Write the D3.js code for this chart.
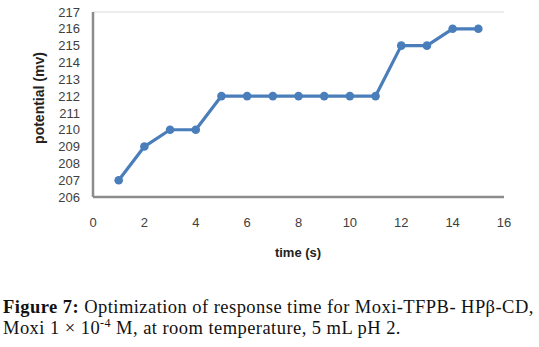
<!DOCTYPE html>
<html><head><meta charset="utf-8">
<script src="https://cdn.jsdelivr.net/npm/d3@7"></script>
<style>body{margin:0;background:#fff}svg{display:block}</style>
</head><body>
<script>
const timeValues = [1,2,3,4,5,6,7,8,9,10,11,12,13,14,15];
const potentialValues = [207,209,210,210,212,212,212,212,212,212,212,215,215,216,216];
const xTicks = [0,2,4,6,8,10,12,14,16];
const yTicks = [206,207,208,209,210,211,212,213,214,215,216,217];
const xTitle = "time (s)";
const yTitle = "potential (mv)";

const W = 539, H = 347;
const svg = d3.select("body").append("svg").attr("width", W).attr("height", H);
const x = d3.scaleLinear().domain([0,16]).range([93,504]);
const y = d3.scaleLinear().domain([206,217]).range([197,12]);

// frame
svg.append("line").attr("x1",x(0)).attr("x2",x(16)).attr("y1",y(217)).attr("y2",y(217))
  .attr("stroke","#d9d9d9").attr("stroke-width",1);
svg.append("line").attr("x1",x(0)).attr("x2",x(16)).attr("y1",y(206)).attr("y2",y(206))
  .attr("stroke","#8c8c8c").attr("stroke-width",2.5);
svg.append("line").attr("x1",x(0)).attr("x2",x(0)).attr("y1",y(217)).attr("y2",y(206))
  .attr("stroke","#8c8c8c").attr("stroke-width",2.5);

const tickFont = "'Liberation Sans', Arial, sans-serif";
svg.append("g").selectAll("text").data(yTicks).join("text")
  .attr("x",80).attr("y",d=>y(d)).attr("dy","0.36em").attr("text-anchor","end")
  .attr("font-family",tickFont).attr("font-size",13).attr("fill","#404040").text(d=>d);
svg.append("g").selectAll("text").data(xTicks).join("text")
  .attr("x",d=>x(d)).attr("y",222).attr("dy","0.36em").attr("text-anchor","middle")
  .attr("font-family",tickFont).attr("font-size",13).attr("fill","#404040").text(d=>d);

svg.append("text").attr("x",298).attr("y",252).attr("dy","0.36em").attr("text-anchor","middle")
  .attr("font-family",tickFont).attr("font-weight","bold").attr("font-size",13).attr("fill","#222").text(xTitle);
svg.append("text").attr("transform","translate(39,98) rotate(-90)").attr("dy","0.36em").attr("text-anchor","middle")
  .attr("font-family",tickFont).attr("font-weight","bold").attr("font-size",14).attr("fill","#222").text(yTitle);

const pts = timeValues.map((t,i)=>[t,potentialValues[i]]);
svg.append("path").datum(pts).attr("fill","none").attr("stroke","#4a7ebb").attr("stroke-width",3.2)
  .attr("stroke-linejoin","round")
  .attr("d", d3.line().x(d=>x(d[0])).y(d=>y(d[1])));
svg.append("g").selectAll("circle").data(pts).join("circle")
  .attr("cx",d=>x(d[0])).attr("cy",d=>y(d[1])).attr("r",4.3).attr("fill","#4a7ebb");

const cap = svg.append("g").attr("font-family","'Liberation Serif','Times New Roman',serif")
  .attr("font-size",18.5).attr("letter-spacing",0.45).attr("fill","#111");
const l1 = cap.append("text").attr("x",3).attr("y",313);
l1.append("tspan").attr("font-weight","bold").text("Figure 7:");
l1.append("tspan").text(" Optimization of response time for Moxi-TFPB- HPβ-CD,");
const l2 = cap.append("text").attr("x",3).attr("y",334);
l2.append("tspan").text("Moxi 1 × 10");
l2.append("tspan").attr("font-size",12).attr("dy",-7).text("-4");
l2.append("tspan").attr("dy",7).text(" M, at room temperature, 5 mL pH 2.");
</script>
</body></html>
